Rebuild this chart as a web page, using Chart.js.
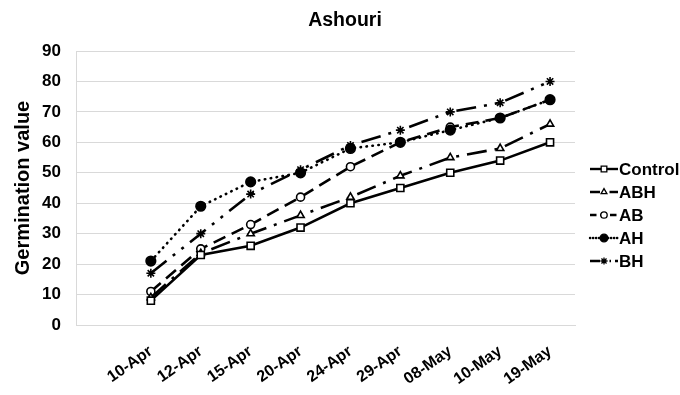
<!DOCTYPE html>
<html>
<head>
<meta charset="utf-8">
<script src="https://cdn.jsdelivr.net/npm/chart.js@4.4.0/dist/chart.umd.min.js"></script>
<style>
html,body{margin:0;padding:0;background:#fff;}
#wrap{width:680px;height:395px;}
</style>
</head>
<body>
<div id="wrap"><canvas id="c" width="680" height="395"></canvas></div>
<script>
const chartTitle = "Ashouri";
const yTitle = "Germination value";
const dates = ["10-Apr","12-Apr","15-Apr","20-Apr","24-Apr","29-Apr","08-May","10-May","19-May"];
const control = [8, 23, 26, 32, 40, 45, 50, 54, 60];
const abh     = [9, 23.5, 30, 36, 42, 49, 55, 58, 66];
const ab      = [11, 25, 33, 42, 52, 60, 65, 68, 74];
const ah      = [21, 39, 47, 50, 58, 60, 64, 68, 74];
const bh      = [17, 30, 43, 51, 59, 64, 70, 73, 80];
const yTicks  = [0,10,20,30,40,50,60,70,80,90];

const FONT = "'Liberation Sans', Arial, sans-serif";
// Excel-style axis with a leading empty category slot
const labels = [""].concat(dates);
const pad = arr => [null].concat(arr);

function ds(label, data, dash, style, radius, fill, order, cap){
  return {
    label, data: pad(data), order,
    borderColor:'#000', borderWidth:2.6, borderDash:dash, borderCapStyle:cap||'butt',
    pointStyle:style, pointRadius:radius, pointBorderWidth:1.6,
    pointBorderColor:'#000', pointBackgroundColor:fill,
    tension:0, spanGaps:false, fill:false
  };
}

const datasets = [
  ds("Control", control, [], 'rect', 5, '#fff', 0),
  ds("ABH", abh, [20,8,3,8], 'triangle', 4.2, '#fff', 1),
  ds("AB", ab, [13,7], 'circle', 4, '#fff', 3),
  ds("AH", ah, [0.5,5.5], 'circle', 4.8, '#000', 2, 'round'),
  ds("BH", bh, [20,8,3,8,3,8], 'star', 4.5, '#000', 4)
];

const overlay = {
  id:'overlay',
  afterDraw(chart){
    const ctx = chart.ctx;
    ctx.save();
    // title
    ctx.fillStyle = '#000';
    ctx.font = "bold 19.5px " + FONT;
    ctx.textAlign = 'center';
    ctx.textBaseline = 'middle';
    ctx.fillText(chartTitle, 345, 21);
    // legend
    ctx.font = "bold 17px " + FONT;
    ctx.textAlign = 'left';
    chart.data.datasets.forEach((d,i)=>{
      const y = 169 + i*23;
      ctx.save();
      ctx.strokeStyle = '#000';
      ctx.lineWidth = 2.4;
      ctx.setLineDash(d.borderDash.length ? d.borderDash.map(v=>v*0.5) : []);
      ctx.lineCap = d.borderCapStyle;
      ctx.beginPath(); ctx.moveTo(590,y); ctx.lineTo(618,y); ctx.stroke();
      ctx.restore();
      ctx.save();
      ctx.strokeStyle = '#000'; ctx.fillStyle = d.pointBackgroundColor; ctx.lineWidth = 1.3;
      Chart.helpers.drawPoint(ctx, {pointStyle:d.pointStyle, radius:d.pointRadius*0.8, rotation:0, borderWidth:1.3}, 604, y);
      ctx.restore();
      ctx.fillStyle = '#000';
      ctx.fillText(d.label, 619, y+1);
    });
    ctx.restore();
  }
};

new Chart(document.getElementById('c'), {
  type:'line',
  data:{labels, datasets},
  plugins:[overlay],
  options:{
    responsive:false, animation:false,
    devicePixelRatio:1,
    layout:{padding:{top:51, right:105, left:11, bottom:0}},
    plugins:{legend:{display:false}, title:{display:false}, tooltip:{enabled:false}},
    scales:{
      x:{
        offset:true,
        grid:{display:false, drawTicks:false},
        border:{display:true, color:'#d9d9d9', width:1},
        ticks:{color:'#000', font:{family:FONT, size:16, weight:'bold'}, minRotation:35, maxRotation:35, padding:17, autoSkip:false},
        afterFit(s){ s.height = 70; }
      },
      y:{
        min:0, max:90,
        afterBuildTicks(s){ s.ticks = yTicks.map(v=>({value:v})); },
        grid:{color:'#d9d9d9', lineWidth:1, drawTicks:false},
        border:{display:true, color:'#d9d9d9', width:1},
        ticks:{color:'#000', font:{family:FONT, size:17, weight:'bold'}, padding:15},
        title:{display:true, text:yTitle, color:'#000', font:{family:FONT, size:20, weight:'bold'}, padding:{top:0,bottom:4}},
        afterFit(s){ s.width = 65; }
      }
    }
  }
});
</script>
</body>
</html>
